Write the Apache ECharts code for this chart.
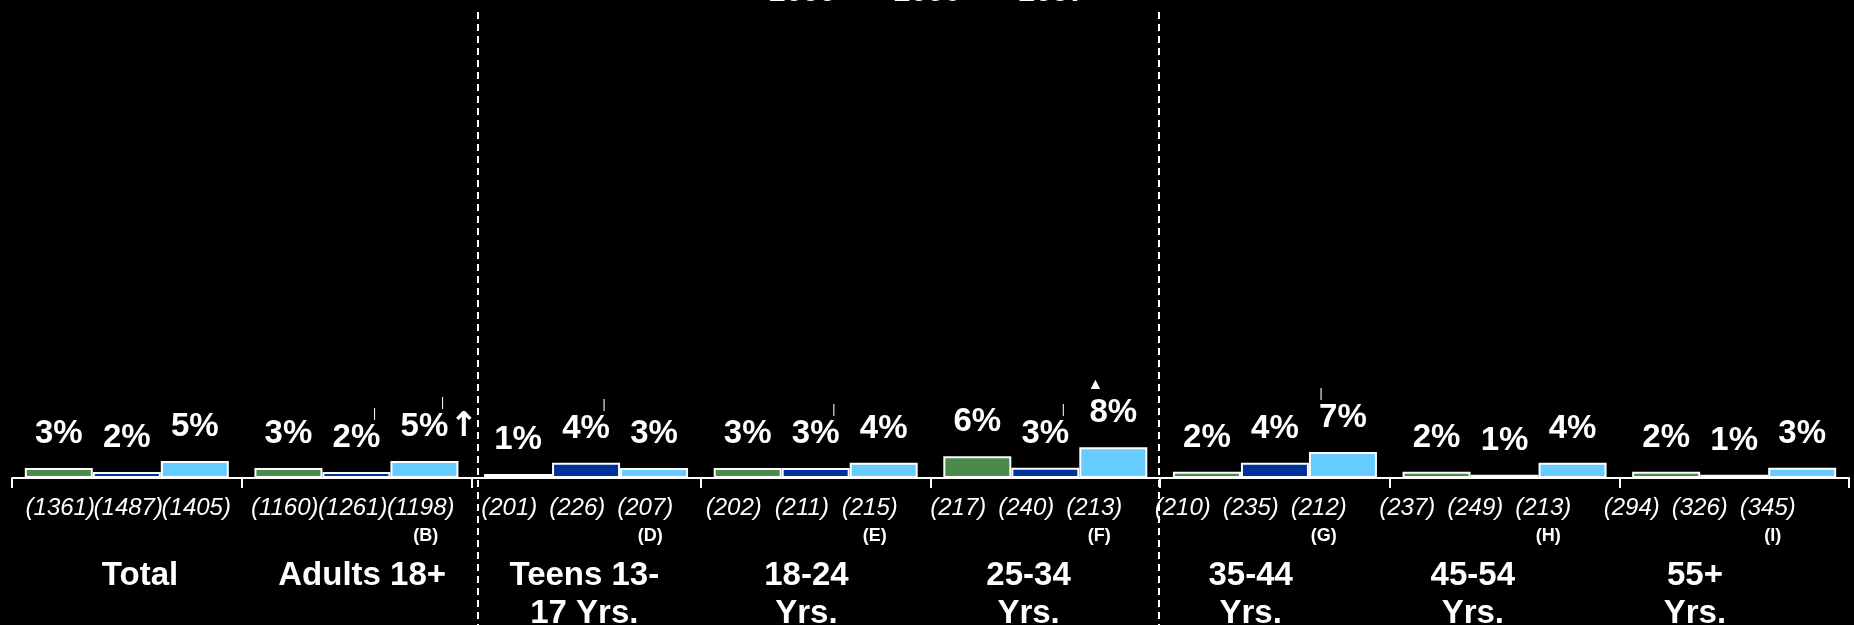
<!DOCTYPE html>
<html>
<head>
<meta charset="utf-8">
<script src="https://cdn.jsdelivr.net/npm/echarts@6/dist/echarts.min.js"></script>
<style>
html,body{margin:0;padding:0;background:#000;}
#chart{width:1854px;height:625px;}
</style>
</head>
<body>
<div id="chart"></div>
<script>
// ---- data ----
const categories = ['Total', 'Adults 18+', 'Teens 13-\n17 Yrs.', '18-24\nYrs.', '25-34\nYrs.', '35-44\nYrs.', '45-54\nYrs.', '55+\nYrs.'];
const years = ['2005', '2006', '2007'];
const v2005 = [2.7, 2.7, 1.1, 2.7, 5.9, 1.7, 1.7, 1.7];
const v2006 = [1.6, 1.6, 4.1, 2.7, 2.8, 4.1, 0.9, 0.9];
const v2007 = [4.6, 4.6, 2.7, 4.1, 8.3, 7.0, 4.1, 2.8];
const n2005 = [1361, 1160, 201, 202, 217, 210, 237, 294];
const n2006 = [1487, 1261, 226, 211, 240, 235, 249, 326];
const n2007 = [1405, 1198, 207, 215, 213, 212, 213, 345];
const groupLetters = ['', '(B)', '(D)', '(E)', '(F)', '(G)', '(H)', '(I)'];
// significance annotations: r = tick right, l = tick left, tri = triangle
const sig2005 = ['', '', '', '', '', '', '', ''];
const sig2006 = ['', 'r', 'r', 'r', 'r', '', '', ''];
const sig2007 = ['', 'r', '', '', 'tri', 'l', '', ''];
const arrow2007 = ['', '↑', '', '', '', '', '', ''];

// ---- styles ----
const FONT = "'Liberation Sans', Arial, sans-serif";
const colors = ['#4A8B4C', '#003399', '#66CCFF'];

const rich = {
  v: {fontSize: 33, fontWeight: 'bold', color: '#fff', lineHeight: 36, fontFamily: FONT},
  mr: {fontSize: 12, color: '#fff', lineHeight: 12, padding: [0, 0, 0, 36], fontFamily: FONT},
  ml: {fontSize: 12, color: '#fff', lineHeight: 12, padding: [0, 44, 0, 0], fontFamily: FONT},
  tri: {fontSize: 16, color: '#fff', lineHeight: 22, padding: [0, 36, 0, 0], fontFamily: FONT},
  sp: {width: 30, lineHeight: 36},
  ar: {fontSize: 34, fontWeight: 'bold', color: '#fff', width: 30, align: 'right', lineHeight: 36, fontFamily: "'DejaVu Sans', sans-serif"}
};

function pctFormatter(vals, sig, arrow) {
  return function (p) {
    const i = p.dataIndex;
    let s = '';
    const k = sig[i];
    if (k === 'r') s += '{mr||}\n';
    else if (k === 'l') s += '{ml||}\n';
    else if (k === 'tri') s += '{tri|▲}\n';
    const txt = Math.round(vals[i]) + '%';
    if (arrow && arrow[i]) s += '{sp|}{v|' + txt + '}{ar|' + arrow[i] + '}';
    else s += '{v|' + txt + '}';
    return s;
  };
}

function barSeries(name, vals, color, sig, arrow) {
  return {
    name: name, type: 'bar', xAxisIndex: 0, yAxisIndex: 0,
    data: vals, barWidth: 68, barGap: '0%',
    itemStyle: {color: color, borderColor: '#fff', borderWidth: 2},
    label: {show: true, position: 'top', distance: 16, formatter: pctFormatter(vals, sig, arrow), rich: rich},
    emphasis: {disabled: true}, silent: true
  };
}

function sampleSeries(name, ns, withLetters) {
  return {
    name: name, type: 'bar', xAxisIndex: 1, yAxisIndex: 1,
    data: ns.map(() => 0), barWidth: 68, barGap: '0%',
    itemStyle: {color: 'rgba(0,0,0,0)', borderWidth: 0},
    label: {
      show: true, position: 'bottom', distance: 17,
      formatter: function (p) {
        const i = p.dataIndex;
        let s = '{n|(' + ns[i] + ')}';
        if (withLetters && groupLetters[i]) s += '\n{l|' + groupLetters[i] + '}';
        return s;
      },
      rich: {
        n: {fontSize: 24, fontStyle: 'italic', color: '#fff', lineHeight: 26, fontFamily: FONT},
        l: {fontSize: 18, fontWeight: 'bold', color: '#fff', lineHeight: 30, padding: [0, 0, 0, 10], fontFamily: FONT}
      }
    },
    emphasis: {disabled: true}, silent: true
  };
}

const chart = echarts.init(document.getElementById('chart'));
chart.setOption({
  backgroundColor: '#000',
  animation: false,
  legend: {
    data: years, left: 747, top: -22, padding: 0,
    itemWidth: 16, itemHeight: 10, itemGap: 36,
    itemStyle: {opacity: 0},
    textStyle: {color: '#fff', fontSize: 30, fontWeight: 'bold', fontFamily: FONT}
  },
  grid: [
    {left: 12, right: 5, top: 108, bottom: 147, outerBoundsMode: 'none'},
    {left: 16, right: 42, top: 108, bottom: 147, outerBoundsMode: 'none'},
    {left: 29, right: 48, top: 108, bottom: 147, outerBoundsMode: 'none'}
  ],
  xAxis: [
    {
      type: 'category', gridIndex: 0, data: categories,
      axisLine: {show: true, lineStyle: {color: '#fff', width: 2}},
      axisTick: {show: true, length: 10, lineStyle: {color: '#fff', width: 2}},
      axisLabel: {show: false}
    },
    {
      type: 'category', gridIndex: 1, data: categories,
      axisLine: {show: false}, axisTick: {show: false}, axisLabel: {show: false}
    },
    {
      type: 'category', gridIndex: 2, data: categories,
      axisLine: {show: false}, axisTick: {show: false},
      axisLabel: {show: true, interval: 0, color: '#fff', fontSize: 33, fontWeight: 'bold', lineHeight: 38, margin: 79, fontFamily: FONT}
    }
  ],
  yAxis: [
    {type: 'value', gridIndex: 0, min: 0, max: 100, show: false},
    {type: 'value', gridIndex: 1, min: 0, max: 100, show: false},
    {type: 'value', gridIndex: 2, min: 0, max: 100, show: false}
  ],
  series: [
    barSeries(years[0], v2005, colors[0], sig2005, null),
    barSeries(years[1], v2006, colors[1], sig2006, null),
    barSeries(years[2], v2007, colors[2], sig2007, arrow2007),
    sampleSeries('n2005', n2005, false),
    sampleSeries('n2006', n2006, false),
    sampleSeries('n2007', n2007, true)
  ],
  graphic: [
    {type: 'line', shape: {x1: 478, y1: 12, x2: 478, y2: 625}, style: {stroke: '#fff', lineWidth: 2, lineDash: [7, 5]}, silent: true},
    {type: 'line', shape: {x1: 1159, y1: 12, x2: 1159, y2: 625}, style: {stroke: '#fff', lineWidth: 2, lineDash: [7, 5]}, silent: true}
  ]
});
</script>
</body>
</html>
